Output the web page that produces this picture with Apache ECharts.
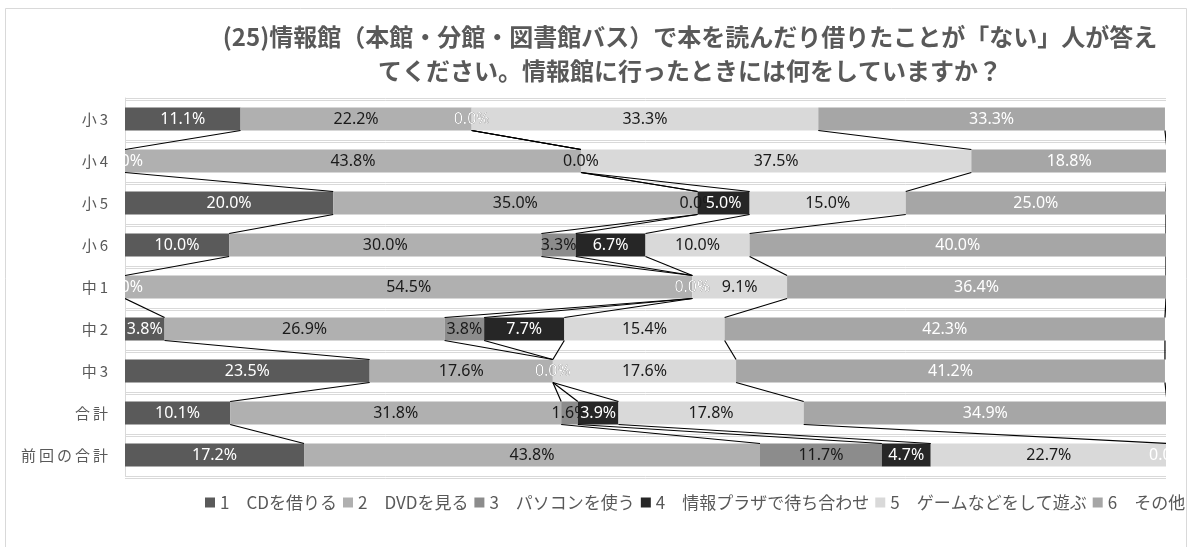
<!DOCTYPE html>
<html>
<head>
<meta charset="utf-8">
<script src="https://cdn.jsdelivr.net/npm/echarts@6/dist/echarts.min.js"></script>
<style>
  html, body { margin: 0; padding: 0; background: #ffffff; }
  #chart { width: 1188px; height: 547px; }
</style>
</head>
<body>
<div id="chart"></div>
<script>
// Survey rows (top to bottom) and answer series, in percent.
const categories = ['小3', '小4', '小5', '小6', '中1', '中2', '中3', '合計', '前回の合計'];
const seriesNames = ['1　CDを借りる', '2　DVDを見る', '3　パソコンを使う', '4　情報プラザで待ち合わせ', '5　ゲームなどをして遊ぶ', '6　その他'];
const cdRent    = [11.1, 0.0, 20.0, 10.0, 0.0, 3.8, 23.5, 10.1, 17.2];
const dvdWatch  = [22.2, 43.8, 35.0, 30.0, 54.5, 26.9, 17.6, 31.8, 43.8];
const pcUse     = [0.0, 0.0, 0.0, 3.3, 0.0, 3.8, 0.0, 1.6, 11.7];
const plazaMeet = [0.0, null, 5.0, 6.7, 0.0, 7.7, 0.0, 3.9, 4.7];
const gamePlay  = [33.3, 37.5, 15.0, 10.0, 9.1, 15.4, 17.6, 17.8, 22.7];
const other     = [33.3, 18.8, 25.0, 40.0, 36.4, 42.3, 41.2, 34.9, 0.0];

const seriesValues = [cdRent, dvdWatch, pcUse, plazaMeet, gamePlay, other];
const barColors = ['#5a5a5a', '#b0b0b0', '#8c8c8c', '#262626', '#d9d9d9', '#a6a6a6'];
const labelColors = ['#ffffff', '#1a1a1a', '#1a1a1a', '#ffffff', '#1a1a1a', '#ffffff'];
const BAR_HEIGHT = 23;

// running totals: starts[s][j] is where segment s of row j begins
const starts = seriesValues.map(() => []);
const ends = seriesValues.map(() => []);
categories.forEach((_, j) => {
  let acc = 0;
  seriesValues.forEach((vals, s) => {
    starts[s][j] = acc;
    acc += vals[j] == null ? 0 : vals[j];
    ends[s][j] = acc;
  });
});

// connector lines between the ends of matching segments on neighbouring rows
const connectorData = [];
seriesValues.forEach((_, s) => {
  for (let j = 0; j < categories.length - 1; j++) {
    connectorData.push([ends[s][j], j, ends[s][j + 1]]);
  }
});

// data labels centred on each segment
const labelData = [];
seriesValues.forEach((vals, s) => {
  vals.forEach((v, j) => {
    if (v == null) return;
    labelData.push([starts[s][j] + v / 2, j, v, s]);
  });
});

const chart = echarts.init(document.getElementById('chart'), null, { renderer: 'canvas' });

const barSeries = seriesNames.map((name, s) => ({
  name: name,
  type: 'bar',
  stack: 'total',
  barWidth: BAR_HEIGHT,
  itemStyle: { color: barColors[s] },
  data: seriesValues[s],
  z: 2
}));

chart.setOption({
  animation: false,
  backgroundColor: '#ffffff',
  title: {
    text: '(25)情報館（本館・分館・図書館バス）で本を読んだり借りたことが「ない」人が答え\nてください。情報館に行ったときには何をしていますか？',
    left: 690,
    top: 20,
    textAlign: 'center',
    padding: 0,
    textStyle: {
      fontFamily: '"Noto Sans CJK JP"',
      fontWeight: 'bold',
      fontSize: 24,
      lineHeight: 34,
      color: '#595959',
      align: 'center'
    }
  },
  legend: {
    data: seriesNames,
    left: 205,
    top: 494,
    width: 990,
    icon: 'rect',
    itemWidth: 10,
    itemHeight: 10,
    itemGap: 6,
    padding: 0,
    textStyle: {
      fontFamily: '"Noto Sans CJK JP"',
      fontSize: 17,
      color: '#595959'
    }
  },
  grid: { left: 125, right: 22, top: 98, bottom: 71, containLabel: false },
  xAxis: {
    type: 'value',
    min: 0,
    max: 100,
    show: false,
    splitLine: { show: false }
  },
  yAxis: {
    type: 'category',
    data: categories,
    inverse: true,
    axisLine: { show: true, lineStyle: { color: '#d9d9d9', width: 1 } },
    axisTick: { show: false },
    axisLabel: {
      margin: 17,
      color: '#595959',
      fontSize: 15,
      fontFamily: '"Noto Sans CJK JP"',
      formatter: (v) => v.split('').join('\u2009')
    },
    splitLine: {
      show: true,
      lineStyle: {
        color: '#d9d9d9',
        width: 1,
        shadowColor: '#d9d9d9',
        shadowBlur: 0,
        shadowOffsetY: 2
      }
    }
  },
  graphic: [{
    type: 'rect',
    shape: { x: 5.5, y: 8.5, width: 1181, height: 560 },
    style: { fill: null, stroke: '#d9d9d9', lineWidth: 1 },
    silent: true,
    z: -10
  }],
  series: barSeries.concat([
    {
      name: 'connectors',
      type: 'custom',
      clip: true,
      z: 3,
      silent: true,
      encode: { x: [0, 2], y: 1 },
      data: connectorData,
      renderItem: (params, api) => {
        const a = api.coord([api.value(0), api.value(1)]);
        const b = api.coord([api.value(2), api.value(1) + 1]);
        return {
          type: 'line',
          shape: { x1: a[0], y1: a[1] + BAR_HEIGHT / 2, x2: b[0], y2: b[1] - BAR_HEIGHT / 2 },
          style: { stroke: '#000000', lineWidth: 1.2 }
        };
      }
    },
    {
      name: 'labels',
      type: 'custom',
      clip: true,
      z: 4,
      silent: true,
      encode: { x: 0, y: 1 },
      data: labelData,
      renderItem: (params, api) => {
        const p = api.coord([api.value(0), api.value(1)]);
        const s = api.value(3);
        return {
          type: 'text',
          x: p[0],
          y: p[1],
          style: {
            text: api.value(2).toFixed(1) + '%',
            fill: labelColors[s],
            fontSize: 16,
            fontFamily: '"Noto Sans"',
            align: 'center',
            verticalAlign: 'middle',
            textAlign: 'center',
            textVerticalAlign: 'middle'
          }
        };
      }
    }
  ])
});
</script>
</body>
</html>
